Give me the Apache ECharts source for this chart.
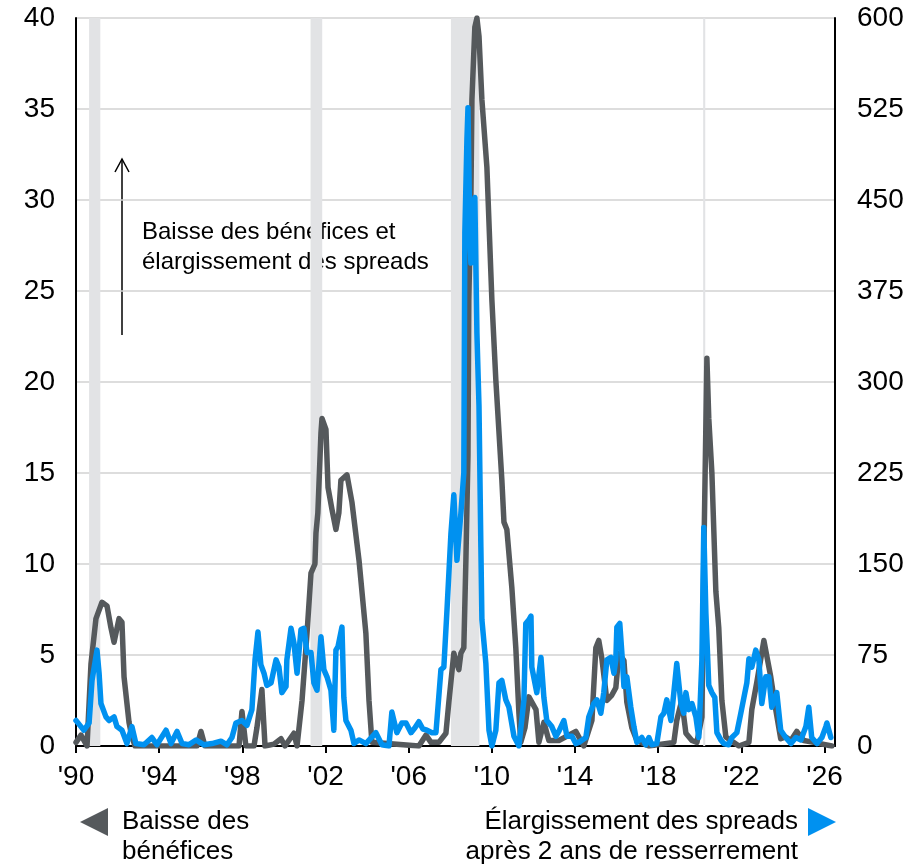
<!DOCTYPE html>
<html>
<head>
<meta charset="utf-8">
<script src="https://cdn.jsdelivr.net/npm/echarts@6/dist/echarts.min.js"></script>
<style>
  html, body { margin: 0; padding: 0; background: #fff; }
  #main { width: 922px; height: 867px; }
</style>
</head>
<body>
<div id="main"></div>
<script>
// x ticks
var tickYears = [1990, 1994, 1998, 2002, 2006, 2010, 2014, 2018, 2022, 2026];
var tickLabels = ["'90", "'94", "'98", "'02", "'06", "'10", "'14", "'18", "'22", "'26"];

// recession periods (shaded)
var recessions = [[1990.63, 1991.17], [2001.28, 2001.84], [2008.03, 2009.40], [2020.16, 2020.26]];

// gray line - baisse des benefices (left axis)
var earningsDecline = [
  [1990.00,0.2],[1990.24,0.6],[1990.53,0.0],[1990.72,4.5],[1990.96,7.0],[1991.25,7.9],[1991.49,7.7],
  [1991.68,6.5],[1991.83,5.7],[1992.07,7.0],[1992.21,6.8],[1992.31,3.8],[1992.55,1.3],[1992.69,0.5],
  [1992.84,0.0],[1994.95,0.0],[1995.82,0.0],[1996.01,0.8],[1996.20,0.0],[1997.84,0.0],[1997.98,1.9],
  [1998.17,0.0],[1998.56,0.0],[1998.70,1.0],[1998.94,3.1],[1999.09,0.0],[1999.52,0.1],[1999.86,0.4],
  [2000.05,0.0],[2000.48,0.7],[2000.63,0.0],[2000.87,2.5],[2001.11,6.2],[2001.30,9.5],[2001.49,10.0],
  [2001.54,11.7],[2001.63,12.8],[2001.78,17.2],[2001.83,18.0],[2002.02,17.4],[2002.12,14.2],[2002.31,13.0],
  [2002.50,11.9],[2002.64,12.8],[2002.74,14.6],[2003.03,14.9],[2003.27,13.4],[2003.61,10.2],[2003.94,6.2],
  [2004.09,2.5],[2004.23,0.2],[2006.49,0.0],[2006.83,0.6],[2007.07,0.2],[2007.45,0.2],[2007.79,0.7],
  [2007.93,2.4],[2008.17,5.1],[2008.41,4.2],[2008.51,5.1],[2008.65,5.4],[2008.75,10.2],[2008.85,16.0],
  [2008.89,24.5],[2008.99,30.0],[2009.04,35.5],[2009.18,39.5],[2009.28,40.0],[2009.38,39.0],[2009.52,35.5],
  [2009.76,31.8],[2010.00,24.5],[2010.19,20.1],[2010.48,14.6],[2010.58,12.3],[2010.72,11.9],[2010.96,8.7],
  [2011.15,5.4],[2011.30,1.8],[2011.39,0.2],[2011.59,1.0],[2011.78,2.7],[2012.12,2.0],[2012.26,0.2],
  [2012.50,1.3],[2012.74,0.3],[2013.22,0.3],[2014.04,0.8],[2014.42,0.0],[2014.81,1.4],[2015.00,5.4],
  [2015.14,5.8],[2015.29,4.8],[2015.53,2.5],[2015.77,2.8],[2015.96,3.2],[2016.11,5.1],[2016.35,4.7],
  [2016.49,2.4],[2016.73,1.0],[2016.97,0.3],[2017.55,0.0],[2018.75,0.2],[2018.89,1.4],[2019.13,2.5],
  [2019.33,0.7],[2019.62,0.3],[2019.86,0.2],[2020.10,1.6],[2020.19,10.2],[2020.34,21.3],[2020.43,18.0],
  [2020.58,15.0],[2020.77,8.5],[2020.91,6.5],[2021.06,2.5],[2021.25,0.5],[2021.88,0.0],[2022.36,0.2],
  [2022.50,2.0],[2022.74,3.5],[2023.08,5.8],[2023.17,5.9],[2023.41,3.8],[2023.65,2.0],[2023.89,0.4],
  [2024.13,0.5],[2024.38,0.3],[2024.66,0.8],[2025.00,0.3],[2025.48,0.2],[2026.35,0.0]
];

// blue line - elargissement des spreads (right axis)
var spreadWidening = [
  [1990.00,21],[1990.19,17],[1990.38,13],[1990.63,19],[1990.77,54],[1991.01,79],[1991.11,60],[1991.20,35],
  [1991.44,24],[1991.59,21],[1991.83,24],[1991.97,16],[1992.21,13],[1992.45,2],[1992.69,16],[1992.88,2],
  [1993.27,1],[1993.65,7],[1993.89,1],[1994.33,13],[1994.57,2],[1994.86,12],[1995.10,2],[1995.43,1],
  [1995.77,5],[1996.15,1],[1996.54,2],[1996.97,4],[1997.26,1],[1997.50,7],[1997.69,19],[1997.98,21],
  [1998.22,17],[1998.46,30],[1998.61,71],[1998.75,94],[1998.89,67],[1999.04,60],[1999.18,50],[1999.38,52],
  [1999.62,71],[1999.76,65],[1999.90,44],[2000.10,49],[2000.14,71],[2000.34,97],[2000.48,85],[2000.63,60],
  [2000.82,96],[2000.96,97],[2001.11,77],[2001.30,77],[2001.44,52],[2001.59,46],[2001.78,90],[2001.92,63],
  [2002.07,57],[2002.26,46],[2002.40,13],[2002.50,79],[2002.60,82],[2002.79,98],[2002.88,40],[2002.98,21],
  [2003.22,13],[2003.37,2],[2003.61,5],[2003.94,2],[2004.42,11],[2004.71,1],[2005.05,0],[2005.19,28],
  [2005.43,11],[2005.67,19],[2005.87,19],[2006.11,11],[2006.30,15],[2006.49,20],[2006.68,14],[2006.88,13],
  [2007.12,11],[2007.31,11],[2007.55,63],[2007.69,65],[2007.84,112],[2008.03,175],[2008.17,207],[2008.32,153],
  [2008.51,192],[2008.65,225],[2008.70,423],[2008.80,500],[2008.85,526],[2008.94,420],[2008.99,398],
  [2009.09,440],[2009.18,452],[2009.28,340],[2009.38,280],[2009.47,164],[2009.52,104],[2009.71,68],
  [2009.86,13],[2010.00,0],[2010.19,13],[2010.34,52],[2010.48,54],[2010.67,38],[2010.82,32],[2011.06,8],
  [2011.30,0],[2011.54,38],[2011.63,101],[2011.78,104],[2011.88,107],[2011.92,65],[2012.16,44],[2012.36,73],
  [2012.50,40],[2012.64,21],[2012.88,16],[2013.08,8],[2013.22,12],[2013.46,21],[2013.61,8],[2013.85,8],
  [2014.04,2],[2014.18,3],[2014.52,7],[2014.66,24],[2014.90,35],[2015.05,38],[2015.24,27],[2015.38,44],
  [2015.53,71],[2015.72,73],[2015.87,60],[2015.96,71],[2016.01,98],[2016.15,101],[2016.25,77],[2016.35,49],
  [2016.49,57],[2016.68,32],[2016.83,16],[2016.97,3],[2017.21,7],[2017.40,1],[2017.55,7],[2017.69,1],
  [2017.93,2],[2018.13,24],[2018.27,27],[2018.41,38],[2018.61,21],[2018.75,44],[2018.89,68],[2019.09,35],
  [2019.23,27],[2019.33,44],[2019.47,30],[2019.62,35],[2019.81,24],[2019.95,7],[2020.10,71],[2020.19,180],
  [2020.29,110],[2020.43,50],[2020.58,44],[2020.72,40],[2020.82,11],[2021.01,5],[2021.15,2],[2021.39,1],
  [2021.54,7],[2021.78,11],[2021.97,27],[2022.12,40],[2022.26,52],[2022.36,72],[2022.50,65],[2022.69,79],
  [2022.84,71],[2022.98,35],[2023.17,57],[2023.32,57],[2023.46,32],[2023.70,44],[2023.89,13],[2024.13,7],
  [2024.38,2],[2024.62,7],[2024.86,5],[2025.10,16],[2025.24,32],[2025.38,7],[2025.63,2],[2025.87,7],
  [2026.06,16],[2026.11,19],[2026.30,7]
];

var FONT = '"Liberation Sans", Arial, sans-serif';
var GRAY = '#55595c';
var BLUE = '#0091f0';

var chart = echarts.init(document.getElementById('main'), null, { renderer: 'canvas' });

var option = {
  backgroundColor: '#fff',
  animation: false,
  grid: { left: 76, right: 87, top: 18, bottom: 121, containLabel: false },
  xAxis: {
    type: 'value', min: 1990, max: 2026.5,
    axisLine: { show: true, lineStyle: { color: '#000', width: 2 } },
    axisTick: { show: true, customValues: tickYears, length: 7, lineStyle: { color: '#000', width: 2 } },
    axisLabel: {
      customValues: tickYears, margin: 17, color: '#000', fontSize: 28, fontFamily: FONT,
      formatter: function(v) { var i = tickYears.indexOf(Math.round(v)); return i >= 0 ? tickLabels[i] : ''; }
    },
    splitLine: { show: false }
  },
  yAxis: [{
    type: 'value', min: 0, max: 40, interval: 5, position: 'left',
    axisLine: { show: true, lineStyle: { color: '#000', width: 2 } },
    axisTick: { show: false },
    axisLabel: { margin: 21, color: '#000', fontSize: 28, fontFamily: FONT },
    splitLine: { show: true, lineStyle: { color: '#d2d2d2', width: 1.5 } }
  }, {
    type: 'value', min: 0, max: 600, interval: 75, position: 'right',
    axisLine: { show: true, lineStyle: { color: '#000', width: 2 } },
    axisTick: { show: false },
    axisLabel: { margin: 22, color: '#000', fontSize: 28, fontFamily: FONT },
    splitLine: { show: false }
  }],
  series: [{
    name: 'Baisse des bénéfices', type: 'line', yAxisIndex: 0,
    data: earningsDecline, showSymbol: false,
    lineStyle: { color: GRAY, width: 5.5, cap: 'round', join: 'round' },
    markArea: {
      silent: true,
      itemStyle: { color: '#e2e3e5' },
      data: recessions.map(function(r) { return [{ xAxis: r[0] }, { xAxis: r[1] }]; })
    }
  }, {
    name: 'Élargissement des spreads', type: 'line', yAxisIndex: 1,
    data: spreadWidening, showSymbol: false,
    lineStyle: { color: BLUE, width: 5.5, cap: 'round', join: 'round' }
  }],
  graphic: [
    { type: 'text', x: 142, y: 217, style: { text: 'Baisse des bénéfices et\nélargissement des spreads', fill: '#000', font: '24px ' + FONT, lineHeight: 30 } },
    { type: 'line', shape: { x1: 122, y1: 335, x2: 122, y2: 159 }, style: { stroke: '#000', lineWidth: 1.5 } },
    { type: 'polyline', shape: { points: [[115, 172], [122, 159], [129, 172]] }, style: { stroke: '#000', lineWidth: 1.5, fill: null } },
    { type: 'polygon', shape: { points: [[80, 822], [108, 808], [108, 836]] }, style: { fill: GRAY } },
    { type: 'text', x: 122, y: 807, style: { text: 'Baisse des\nbénéfices', fill: '#000', font: '26px ' + FONT, lineHeight: 30 } },
    { type: 'polygon', shape: { points: [[808, 808], [808, 836], [836, 822]] }, style: { fill: BLUE } },
    { type: 'text', x: 798, y: 807, style: { text: 'Élargissement des spreads\naprès 2 ans de resserrement', fill: '#000', font: '26px ' + FONT, lineHeight: 30, align: 'right' } }
  ]
};

chart.setOption(option);
</script>
</body>
</html>
